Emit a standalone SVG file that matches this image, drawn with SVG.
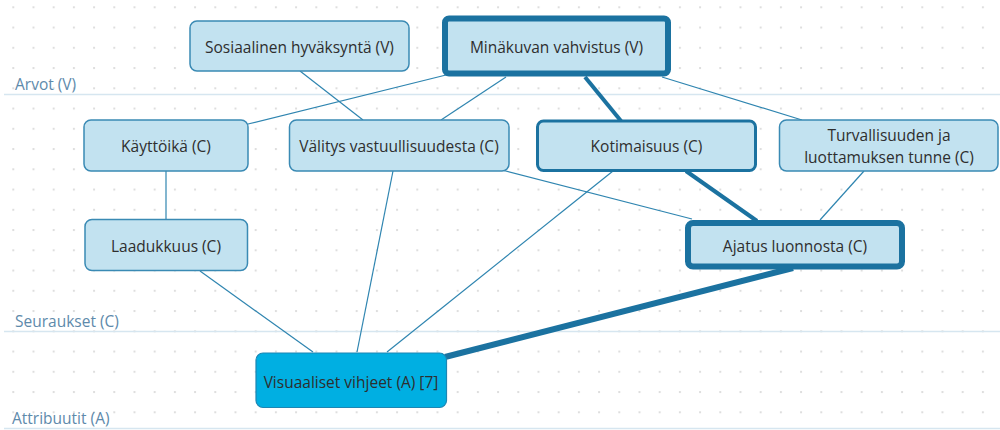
<svg xmlns="http://www.w3.org/2000/svg" width="1000" height="430" viewBox="0 0 1000 430">
  <defs>
    <pattern id="dots" x="12.3" y="6.3" width="20.2" height="20.25" patternUnits="userSpaceOnUse">
      <rect x="0" y="0" width="2" height="2" fill="#dedede"/>
    </pattern>
    <style>
      .lane { stroke: #d6e6f0; stroke-width: 1.5; }
      .lane-label { font-family: "Open Sans", "Liberation Sans", sans-serif; font-size: 15.5px; fill: #5e8aab; }
      .node rect { fill: #c2e2f0; stroke: #3a8ab4; stroke-width: 1.5; }
      .node.strong rect { stroke: #1b72a0; stroke-width: 3; }
      .node.key rect { stroke: #1b72a0; stroke-width: 6; }
      .node.attr rect { fill: #00afe2; stroke: #1d86b3; stroke-width: 1.2; }
      .node text { font-family: "Open Sans", "Liberation Sans", sans-serif; font-size: 15.5px; fill: #2e2e2e; text-anchor: middle; }
      .edge { stroke: #2f85b0; stroke-width: 1.2; fill: none; }
      .edge.w2 { stroke: #1b72a0; stroke-width: 4; }
      .edge.w3 { stroke: #1b72a0; stroke-width: 6; }
    </style>
  </defs>

  <rect width="1000" height="430" fill="#ffffff"/>
  <rect width="1000" height="430" fill="url(#dots)"/>

  <!-- swim lanes -->
  <g id="lanes">
    <line class="lane" x1="4" y1="94.5" x2="1000" y2="94.5"/>
    <line class="lane" x1="4" y1="331.5" x2="1000" y2="331.5"/>
    <line class="lane" x1="4" y1="428.5" x2="1000" y2="428.5"/>
    <text class="lane-label" x="15" y="89.5">Arvot (V)</text>
    <text class="lane-label" x="15" y="326.5">Seuraukset (C)</text>
    <text class="lane-label" x="12" y="424">Attribuutit (A)</text>
  </g>

  <!-- connectors -->
  <g id="connectors">
    <line class="edge" x1="300" y1="71" x2="363" y2="120"/>
    <line class="edge" x1="446" y1="75" x2="248" y2="124"/>
    <line class="edge" x1="506" y1="77" x2="441" y2="120"/>
    <line class="edge w2" x1="585" y1="77" x2="621" y2="121"/>
    <line class="edge" x1="662" y1="77" x2="802" y2="120"/>
    <line class="edge" x1="166" y1="171" x2="166" y2="220"/>
    <line class="edge" x1="502" y1="170" x2="692" y2="219"/>
    <line class="edge" x1="613" y1="171" x2="387" y2="352"/>
    <line class="edge w2" x1="686" y1="171" x2="757" y2="221"/>
    <line class="edge" x1="864" y1="171" x2="820" y2="220"/>
    <line class="edge" x1="393" y1="171" x2="357" y2="352"/>
    <line class="edge" x1="200" y1="271" x2="313" y2="352"/>
    <line class="edge w3" x1="793" y1="268" x2="445" y2="357"/>
  </g>

  <!-- values -->
  <g id="node-sosiaalinen" class="node">
    <rect x="190" y="21" width="219" height="50" rx="7"/>
    <text x="299.5" y="52.5">Sosiaalinen hyväksyntä (V)</text>
  </g>
  <g id="node-minakuvan" class="node key">
    <rect x="445" y="18.5" width="223" height="55" rx="4"/>
    <text x="556.5" y="53">Minäkuvan vahvistus (V)</text>
  </g>

  <!-- consequences -->
  <g id="node-kayttoika" class="node">
    <rect x="84" y="120" width="164" height="51" rx="7"/>
    <text x="166" y="151.5">Käyttöikä (C)</text>
  </g>
  <g id="node-valitys" class="node">
    <rect x="289.5" y="120" width="219.5" height="51" rx="7"/>
    <text x="399" y="151.5">Välitys vastuullisuudesta (C)</text>
  </g>
  <g id="node-kotimaisuus" class="node strong">
    <rect x="537.5" y="121" width="218" height="49.5" rx="6"/>
    <text x="646.5" y="151.5">Kotimaisuus (C)</text>
  </g>
  <g id="node-turvallisuus" class="node">
    <rect x="779.5" y="120" width="218.5" height="51" rx="7"/>
    <text x="889" y="140.5">Turvallisuuden ja</text>
    <text x="889" y="163">luottamuksen tunne (C)</text>
  </g>
  <g id="node-laadukkuus" class="node">
    <rect x="85" y="219.5" width="162.5" height="51" rx="7"/>
    <text x="166" y="251.5">Laadukkuus (C)</text>
  </g>
  <g id="node-ajatus" class="node key">
    <rect x="688" y="223" width="214" height="43.5" rx="5"/>
    <text x="795" y="251.5">Ajatus luonnosta (C)</text>
  </g>

  <!-- attributes -->
  <g id="node-visuaaliset" class="node attr">
    <rect x="256" y="353" width="190.5" height="54.5" rx="7"/>
    <text x="351" y="388">Visuaaliset vihjeet (A) [7]</text>
  </g>
</svg>
